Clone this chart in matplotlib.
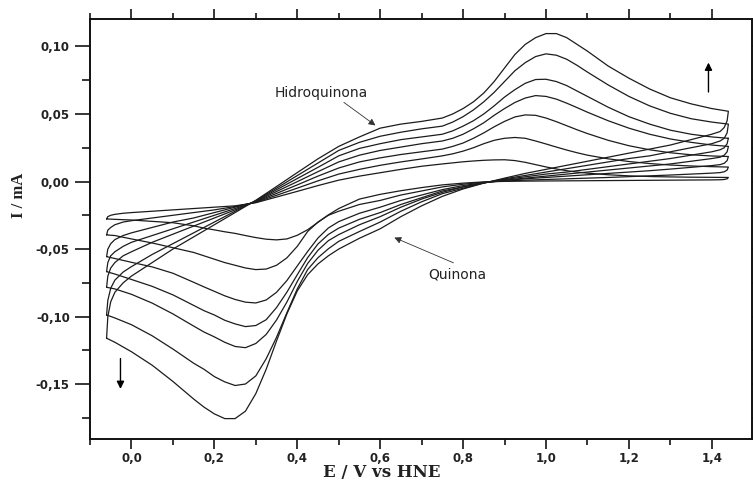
import matplotlib
matplotlib.use("Agg")
import matplotlib.pyplot as plt
from matplotlib.ticker import FixedLocator, MultipleLocator, FuncFormatter

# ---------------- data ----------------
# forward (anodic) sweep potentials, V
E_fwd = [-0.06, -0.057, -0.05, -0.04, -0.02, 0.00, 0.05, 0.10, 0.15, 0.20, 0.25,
         0.30, 0.35, 0.40, 0.45, 0.50, 0.55, 0.60, 0.65, 0.70, 0.75,
         0.775, 0.80, 0.825, 0.85, 0.875, 0.90, 0.925, 0.95, 0.975, 1.00, 1.025, 1.05, 1.075, 1.10,
         1.15, 1.20, 1.25, 1.30, 1.35, 1.40, 1.44]
# reverse (cathodic) sweep potentials, V
E_rev = [1.44, 1.437, 1.43, 1.42, 1.40, 1.35, 1.30, 1.25, 1.20, 1.15, 1.10, 1.05, 1.00, 0.95,
         0.90, 0.85, 0.80, 0.75, 0.70, 0.65, 0.60, 0.55,
         0.50, 0.475, 0.45, 0.425, 0.40, 0.375, 0.35, 0.325, 0.30, 0.275, 0.25, 0.225, 0.20, 0.175, 0.15,
         0.10, 0.05, 0.00, -0.04, -0.06]

# currents, mA  (curve 1 = slowest scan ... curve 7 = fastest scan)
I_fwd_1 = [-0.0277, -0.026, -0.025, -0.0243, -0.0235, -0.023, -0.022, -0.021, -0.020, -0.019, -0.018,
           -0.0157, -0.0115, -0.0073, -0.003, 0.001, 0.004, 0.0065, 0.009, 0.0113, 0.013,
           0.0138, 0.0146, 0.0152, 0.0157, 0.016, 0.0161, 0.0155, 0.0142, 0.0125, 0.0108, 0.0093, 0.008, 0.007, 0.0062,
           0.005, 0.0042, 0.0037, 0.0034, 0.0032, 0.0031, 0.003]
I_rev_1 = [0.003, 0.002, 0.0015, 0.0013, 0.0012, 0.0011, 0.001, 0.0009, 0.0008, 0.0007, 0.0006, 0.0005, 0.0004, 0.0003,
           0.0001, -0.0003, -0.0012, -0.0025, -0.0045, -0.0068, -0.0095, -0.013,
           -0.020, -0.0247, -0.0302, -0.0357, -0.0398, -0.0425, -0.0432, -0.0427, -0.0415, -0.040, -0.0384, -0.0372, -0.0358, -0.0345, -0.0328,
           -0.0305, -0.0295, -0.0285, -0.028, -0.0277]

I_fwd_2 = [-0.0395, -0.036, -0.034, -0.032, -0.030, -0.029, -0.027, -0.025, -0.023, -0.021, -0.0185,
           -0.0154, -0.0102, -0.0049, 0.0005, 0.0055, 0.009, 0.012, 0.0145, 0.0167, 0.019,
           0.0205, 0.0225, 0.025, 0.028, 0.0305, 0.032, 0.0326, 0.032, 0.030, 0.0278, 0.0255, 0.0233, 0.0213, 0.0195,
           0.0168, 0.0148, 0.0133, 0.0122, 0.0115, 0.011, 0.0107]
I_rev_2 = [0.0107, 0.0085, 0.0072, 0.0066, 0.0062, 0.0055, 0.0048, 0.0042, 0.0036, 0.003, 0.0025, 0.002, 0.0015, 0.001,
           0.0004, -0.0005, -0.002, -0.004, -0.007, -0.010, -0.014, -0.017,
           -0.022, -0.025, -0.030, -0.037, -0.048, -0.0565, -0.062, -0.0648, -0.0652, -0.064, -0.062, -0.060, -0.0575, -0.055, -0.0525,
           -0.049, -0.0455, -0.0425, -0.040, -0.0395]

I_fwd_3 = [-0.0556, -0.050, -0.046, -0.043, -0.040, -0.038, -0.034, -0.030, -0.027, -0.023, -0.019,
           -0.0151, -0.0088, -0.0025, 0.004, 0.010, 0.0145, 0.0175, 0.020, 0.022, 0.024,
           0.026, 0.0285, 0.032, 0.036, 0.0405, 0.0445, 0.0478, 0.0493, 0.049, 0.047, 0.0443, 0.0413, 0.0383, 0.0355,
           0.0305, 0.0265, 0.0235, 0.0213, 0.0198, 0.0189, 0.0185]
I_rev_3 = [0.0185, 0.0155, 0.0135, 0.0125, 0.0118, 0.0105, 0.0092, 0.008, 0.007, 0.006, 0.005, 0.004, 0.003, 0.002,
           0.0008, -0.0008, -0.003, -0.006, -0.010, -0.014, -0.019, -0.0235,
           -0.0297, -0.0344, -0.0418, -0.0518, -0.0625, -0.0733, -0.082, -0.0877, -0.0899, -0.0893, -0.0873, -0.0846, -0.0813, -0.078, -0.0746,
           -0.0679, -0.0632, -0.0598, -0.057, -0.0556]

I_fwd_4 = [-0.0667, -0.060, -0.055, -0.052, -0.048, -0.045, -0.040, -0.035, -0.030, -0.025, -0.020,
           -0.0148, -0.0074, -0.0001, 0.0073, 0.0145, 0.0195, 0.023, 0.0255, 0.028, 0.030,
           0.032, 0.035, 0.039, 0.0435, 0.049, 0.054, 0.0585, 0.0618, 0.0636, 0.063, 0.061, 0.058, 0.0547, 0.0513,
           0.045, 0.0395, 0.035, 0.0315, 0.029, 0.027, 0.026]
I_rev_4 = [0.0259, 0.022, 0.0195, 0.018, 0.017, 0.015, 0.013, 0.0115, 0.010, 0.0085, 0.007, 0.0055, 0.004, 0.0025,
           0.001, -0.001, -0.004, -0.007, -0.012, -0.017, -0.023, -0.028,
           -0.0345, -0.0392, -0.0462, -0.0564, -0.069, -0.0819, -0.0933, -0.1023, -0.1066, -0.1074, -0.1054, -0.1027, -0.0988, -0.0956, -0.0917,
           -0.0839, -0.0776, -0.0725, -0.0685, -0.0667]

I_fwd_5 = [-0.0783, -0.070, -0.064, -0.060, -0.055, -0.052, -0.045, -0.039, -0.033, -0.027, -0.021,
           -0.0145, -0.0061, 0.0022, 0.0105, 0.019, 0.0245, 0.028, 0.031, 0.033, 0.035,
           0.0375, 0.041, 0.045, 0.050, 0.056, 0.0625, 0.068, 0.0727, 0.0755, 0.0757, 0.074, 0.071, 0.067, 0.063,
           0.055, 0.048, 0.0425, 0.038, 0.035, 0.033, 0.032]
I_rev_5 = [0.0321, 0.028, 0.025, 0.0235, 0.022, 0.0195, 0.017, 0.015, 0.013, 0.011, 0.009, 0.007, 0.0055, 0.0035,
           0.0015, -0.001, -0.004, -0.008, -0.013, -0.019, -0.026, -0.032,
           -0.0393, -0.0438, -0.0509, -0.0607, -0.074, -0.0892, -0.1025, -0.1132, -0.1199, -0.123, -0.1221, -0.119, -0.115, -0.1114, -0.107,
           -0.098, -0.090, -0.0835, -0.0795, -0.0783]

I_fwd_6 = [-0.0988, -0.088, -0.079, -0.073, -0.067, -0.063, -0.054, -0.046, -0.038, -0.030, -0.022,
           -0.0142, -0.0049, 0.0044, 0.0137, 0.023, 0.029, 0.0335, 0.0365, 0.039, 0.041,
           0.044, 0.048, 0.053, 0.059, 0.066, 0.074, 0.082, 0.088, 0.0925, 0.0945, 0.0935, 0.0905, 0.086, 0.081,
           0.0715, 0.063, 0.056, 0.0505, 0.0465, 0.044, 0.0425]
I_rev_6 = [0.0425, 0.036, 0.032, 0.030, 0.028, 0.025, 0.022, 0.019, 0.017, 0.0145, 0.012, 0.0095, 0.007, 0.0045,
           0.002, -0.001, -0.005, -0.009, -0.015, -0.022, -0.030, -0.037,
           -0.0443, -0.0498, -0.0564, -0.0652, -0.0795, -0.0971, -0.1153, -0.1312, -0.1439, -0.1499, -0.151, -0.1483, -0.1444, -0.139, -0.1345,
           -0.124, -0.1142, -0.106, -0.101, -0.0988]

I_fwd_7 = [-0.116, -0.100, -0.089, -0.082, -0.075, -0.070, -0.060, -0.050, -0.041, -0.032, -0.023,
           -0.0139, -0.0037, 0.0066, 0.0168, 0.026, 0.033, 0.0395, 0.0425, 0.0445, 0.047,
           0.050, 0.054, 0.059, 0.0655, 0.074, 0.084, 0.094, 0.1015, 0.1065, 0.1095, 0.1095, 0.1065, 0.1015, 0.0965,
           0.0855, 0.0765, 0.0685, 0.062, 0.0575, 0.054, 0.052]
I_rev_7 = [0.052, 0.045, 0.040, 0.037, 0.035, 0.031, 0.027, 0.024, 0.021, 0.018, 0.015, 0.012, 0.009, 0.006,
           0.0025, -0.0012, -0.0055, -0.011, -0.018, -0.026, -0.035, -0.042,
           -0.050, -0.055, -0.061, -0.069, -0.081, -0.098, -0.118, -0.139, -0.157, -0.170, -0.1755, -0.1755, -0.172, -0.167, -0.161,
           -0.148, -0.136, -0.126, -0.119, -0.116]

forward_sweeps = [I_fwd_1, I_fwd_2, I_fwd_3, I_fwd_4, I_fwd_5, I_fwd_6, I_fwd_7]
reverse_sweeps = [I_rev_1, I_rev_2, I_rev_3, I_rev_4, I_rev_5, I_rev_6, I_rev_7]

x_major = [0.0, 0.2, 0.4, 0.6, 0.8, 1.0, 1.2, 1.4]
y_major = [-0.15, -0.10, -0.05, 0.00, 0.05, 0.10]
x_label = "E / V vs HNE"
y_label = "I / mA"
label_hq = "Hidroquinona"
label_q = "Quinona"

# ---------------- figure ----------------
fig = plt.figure(figsize=(7.53, 4.80), dpi=100)
ax = fig.add_axes([90 / 753, 1 - 439 / 480, 662 / 753, 420 / 480])

line_color = "#1c1c1c"
for i_f, i_r in zip(forward_sweeps, reverse_sweeps):
    ax.plot(E_fwd + E_rev, i_f + i_r, color=line_color, lw=0.9,
            solid_joinstyle="round", solid_capstyle="round")

ax.set_xlim(-0.1, 1.497)
ax.set_ylim(-0.1906, 0.1203)

ax.xaxis.set_major_locator(FixedLocator(x_major))
ax.xaxis.set_minor_locator(MultipleLocator(0.1))
ax.yaxis.set_major_locator(FixedLocator(y_major))
ax.yaxis.set_minor_locator(FixedLocator([-0.175, -0.125, -0.075, -0.025, 0.025, 0.075]))

ax.xaxis.set_major_formatter(FuncFormatter(lambda v, p: f"{v:.1f}".replace(".", ",").replace("-0,0", "0,0")))
ax.yaxis.set_major_formatter(FuncFormatter(lambda v, p: f"{v:.2f}".replace(".", ",").replace("-0,00", "0,00")))

ax.tick_params(axis="x", which="major", direction="out", length=7, width=1.1, top=True, pad=2.5)
ax.tick_params(axis="x", which="minor", direction="out", length=4, width=1.1, top=True)
ax.tick_params(axis="y", which="major", direction="out", length=11, width=1.1, right=True, pad=3.5)
ax.tick_params(axis="y", which="minor", direction="out", length=6, width=1.1, right=True)
for lab in ax.get_xticklabels() + ax.get_yticklabels():
    lab.set_fontfamily("DejaVu Sans")
    lab.set_fontweight("bold")
    lab.set_fontsize(8.5)
    lab.set_color("#222222")

for s in ax.spines.values():
    s.set_linewidth(1.4)
    s.set_color("#111111")

ax.set_xlabel(x_label, fontfamily="DejaVu Serif", fontweight="bold", fontsize=12, color="#222222")
ax.xaxis.label.set_verticalalignment("center")
ax.xaxis.set_label_coords(0.441, -0.080)
ax.set_ylabel(y_label, fontfamily="Liberation Serif", fontweight="bold", fontsize=12, color="#222222")
ax.yaxis.label.set_verticalalignment("center")
ax.yaxis.set_label_coords(-0.108, 0.581)

# annotations
ax.annotate("", xy=(0.594, 0.0403), xytext=(0.507, 0.0598),
            arrowprops=dict(arrowstyle="-|>", color="#333333", lw=0.6, mutation_scale=10))
ax.text(0.4586, 0.0657, label_hq, ha="center", va="center", fontfamily="DejaVu Sans",
        fontsize=10, color="#222222")
ax.annotate("", xy=(0.628, -0.0407), xytext=(0.783, -0.061),
            arrowprops=dict(arrowstyle="-|>", color="#333333", lw=0.6, mutation_scale=10))
ax.text(0.785, -0.0691, label_q, ha="center", va="center", fontfamily="DejaVu Sans",
        fontsize=10, color="#222222")

ax.annotate("", xy=(-0.0265, -0.1556), xytext=(-0.0265, -0.129),
            arrowprops=dict(arrowstyle="-|>", color="black", lw=1.0, mutation_scale=11))
ax.annotate("", xy=(1.392, 0.0901), xytext=(1.392, 0.0642),
            arrowprops=dict(arrowstyle="-|>", color="black", lw=1.0, mutation_scale=11))

fig.savefig("out.png", dpi=100)
